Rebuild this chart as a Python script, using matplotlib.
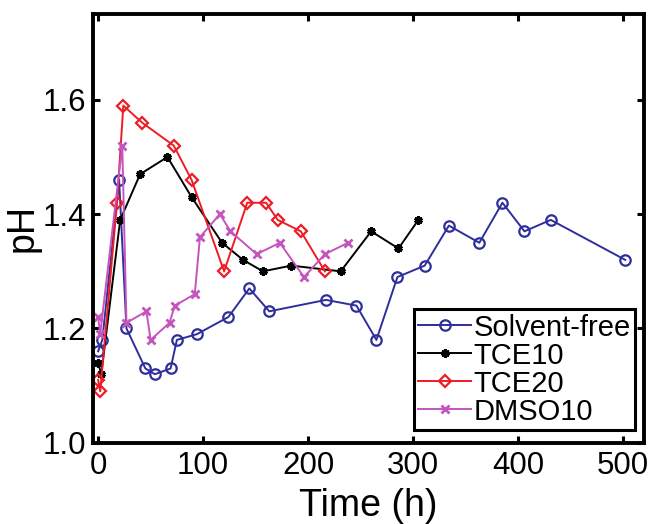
import matplotlib
matplotlib.use('Agg')
import matplotlib.pyplot as plt

plt.rcParams['font.family'] = ['Liberation Sans', 'DejaVu Sans']

# -----------------------
# DATA
# -----------------------
sf_t = [0, 4, 20, 27, 45, 54, 69, 75, 94, 124, 144, 163, 217, 246, 265, 285, 311, 334, 363, 385, 406, 431, 502]
sf_ph = [1.16, 1.18, 1.46, 1.20, 1.13, 1.12, 1.13, 1.18, 1.19, 1.22, 1.27, 1.23, 1.25, 1.24, 1.18, 1.29, 1.31, 1.38, 1.35, 1.42, 1.37, 1.39, 1.32]

tce10_t = [0, 3, 21, 40, 66, 89, 118, 138, 157, 184, 231, 260, 286, 305]
tce10_ph = [1.14, 1.12, 1.39, 1.47, 1.50, 1.43, 1.35, 1.32, 1.30, 1.31, 1.30, 1.37, 1.34, 1.39]

tce20_t = [0, 2, 18, 24, 42, 72, 89, 120, 142, 160, 171, 193, 216]
tce20_ph = [1.11, 1.09, 1.42, 1.59, 1.56, 1.52, 1.46, 1.30, 1.42, 1.42, 1.39, 1.37, 1.30]

dmso_t = [0, 2, 23, 27, 46, 50, 68, 73, 92, 97, 116, 126, 151, 173, 196, 216, 238]
dmso_ph = [1.22, 1.19, 1.52, 1.21, 1.23, 1.18, 1.21, 1.24, 1.26, 1.36, 1.40, 1.37, 1.33, 1.35, 1.29, 1.33, 1.35]

x_ticks = [0, 100, 200, 300, 400, 500]
y_ticks = [1.0, 1.2, 1.4, 1.6]

BLUE = "#2e2e9c"
RED = "#ee1c25"
MAGENTA = "#c455bd"

# -----------------------
# PLOT
# -----------------------
fig = plt.figure(figsize=(6.54, 5.24), dpi=100)
ax = fig.add_axes([0.142, 0.155, 0.843, 0.818])

ax.plot(sf_t, sf_ph, color=BLUE, lw=1.4, marker='o', ms=7.5, mfc='none', mew=1.6,
        label='Solvent-free')
ax.plot(tce10_t, tce10_ph, color='black', lw=1.4, marker=(6, 2, 0), ms=6, mew=2.2,
        label='TCE10')
ax.plot(tce20_t, tce20_ph, color=RED, lw=1.4, marker='D', ms=6.5, mfc='none', mew=1.6,
        label='TCE20')
ax.plot(dmso_t, dmso_ph, color=MAGENTA, lw=1.4, marker='x', ms=6, mew=2,
        label='DMSO10')

ax.set_xlim(-5, 520)
ax.set_ylim(1.0, 1.75)
ax.set_xticks(x_ticks)
ax.set_yticks(y_ticks)
ax.set_yticklabels([f"{v:.1f}" for v in y_ticks])

ax.tick_params(direction='in', length=5, width=2.2, labelsize=22.5,
               top=True, right=True)
ax.tick_params(axis='x', pad=6)
ax.tick_params(axis='y', pad=5)
for s in ax.spines.values():
    s.set_linewidth(2.8)

ax.set_xlabel('Time (h)', fontsize=27, labelpad=5)
ax.set_ylabel('pH', fontsize=27, labelpad=1)

leg = ax.legend(loc='lower right', bbox_to_anchor=(0.984, 0.03), fontsize=21,
                handlelength=1.8, handletextpad=0.1, labelspacing=0.0,
                borderpad=0.15, borderaxespad=0, fancybox=False, framealpha=1)
leg.get_frame().set_edgecolor('black')
leg.get_frame().set_linewidth(2.2)

plt.savefig('out.png', dpi=100)
plt.close()
